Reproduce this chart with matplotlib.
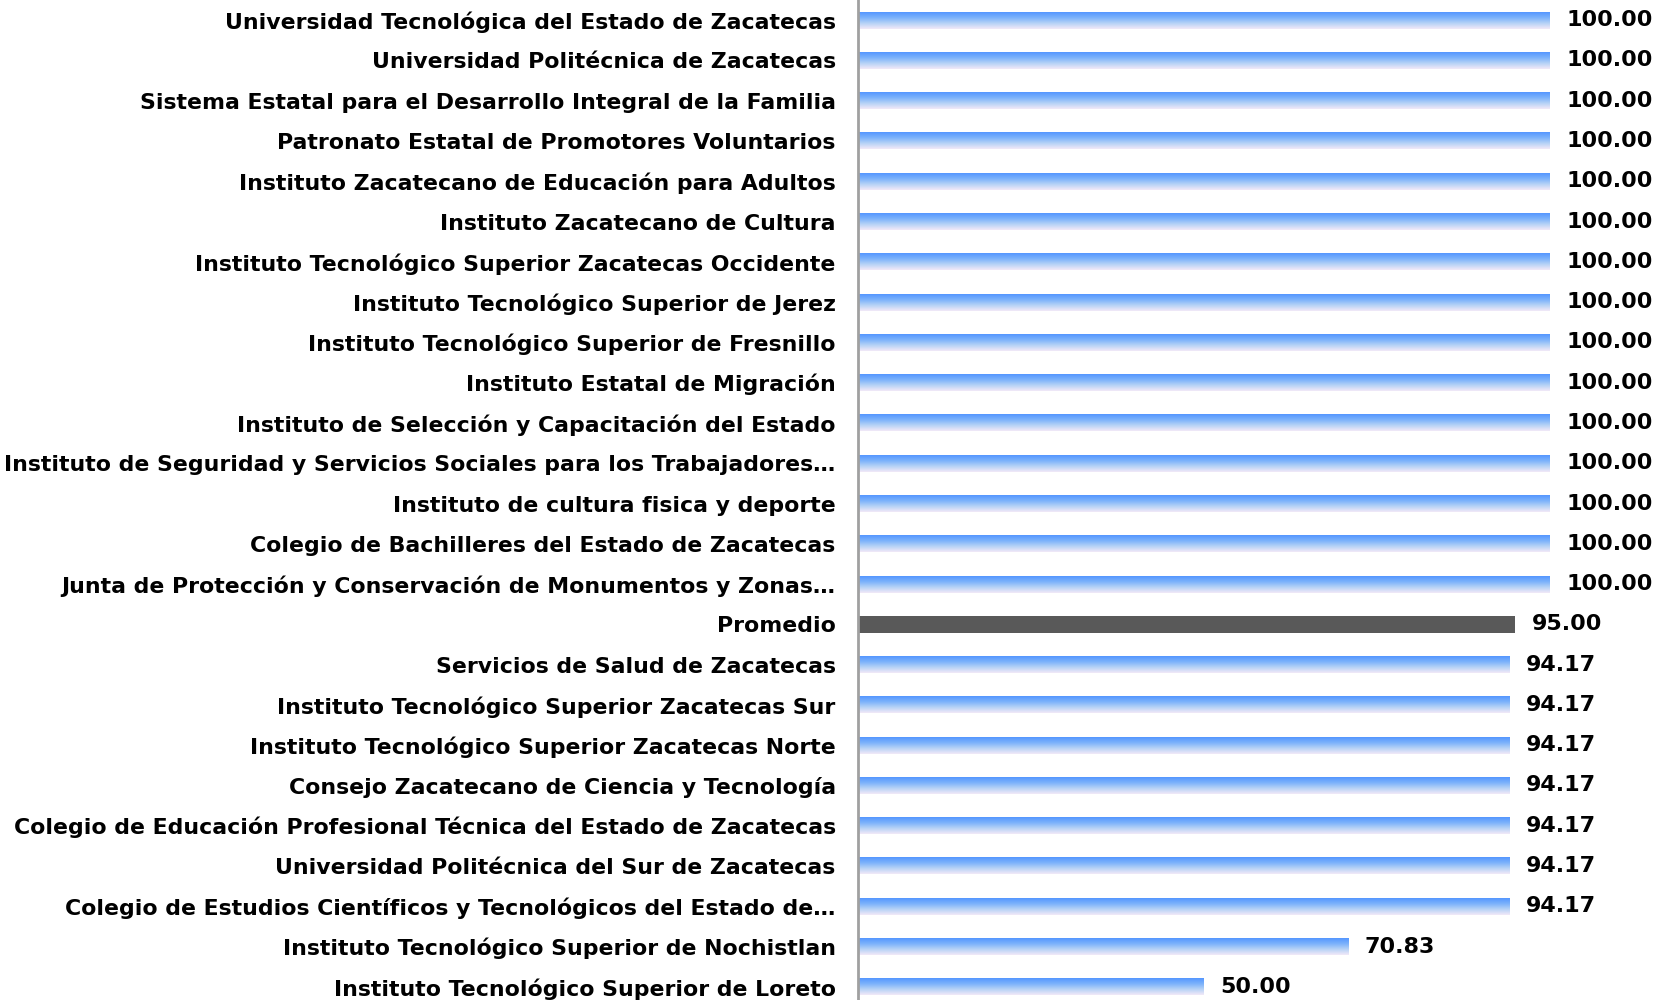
import numpy as np
import matplotlib
matplotlib.use('Agg')
import matplotlib.pyplot as plt
from matplotlib.colors import LinearSegmentedColormap

# Datos (de arriba hacia abajo)
etiquetas = [
    'Universidad Tecnológica del Estado de Zacatecas',
    'Universidad Politécnica de Zacatecas',
    'Sistema Estatal para el Desarrollo Integral de la Familia',
    'Patronato Estatal de Promotores Voluntarios',
    'Instituto Zacatecano de Educación para Adultos',
    'Instituto Zacatecano de Cultura',
    'Instituto Tecnológico Superior Zacatecas Occidente',
    'Instituto Tecnológico Superior de Jerez',
    'Instituto Tecnológico Superior de Fresnillo',
    'Instituto Estatal de Migración',
    'Instituto de Selección y Capacitación del Estado',
    'Instituto de Seguridad y Servicios Sociales para los Trabajadores…',
    'Instituto de cultura fisica y deporte',
    'Colegio de Bachilleres del Estado de Zacatecas',
    'Junta de Protección y Conservación de Monumentos y Zonas…',
    'Promedio',
    'Servicios de Salud de Zacatecas',
    'Instituto Tecnológico Superior Zacatecas Sur',
    'Instituto Tecnológico Superior Zacatecas Norte',
    'Consejo Zacatecano de Ciencia y Tecnología',
    'Colegio de Educación Profesional Técnica del Estado de Zacatecas',
    'Universidad Politécnica del Sur de Zacatecas',
    'Colegio de Estudios Científicos y Tecnológicos del Estado de…',
    'Instituto Tecnológico Superior de Nochistlan',
    'Instituto Tecnológico Superior de Loreto',
]
valores = [100.00] * 15 + [95.00] + [94.17] * 7 + [70.83, 50.00]

fuente = 'DejaVu Sans'
alto_barra = 0.42
degradado = LinearSegmentedColormap.from_list(
    'azul', ['#5597ff', '#7cb2fb', '#b7d3f6', '#f2e9f8'])
grad = np.linspace(0, 1, 64).reshape(-1, 1)

fig = plt.figure(figsize=(16.64, 10), dpi=100)
ax = fig.add_axes([0.5156, -0.007, 1 - 0.5156, 1.007])

n = len(valores)

for i, (etq, v) in enumerate(zip(etiquetas, valores)):
    if etq == 'Promedio':
        ax.barh(i, v, height=alto_barra, color='#595959')
    else:
        # barra con degradado vertical
        ax.imshow(grad, cmap=degradado, aspect='auto',
                  extent=[0, v, i + alto_barra / 2, i - alto_barra / 2],
                  interpolation='bilinear', zorder=2)
    ax.text(v + 2.4, i, f'{v:.2f}', va='center', ha='left',
            fontsize=16, fontweight='bold', family=fuente)

ax.set_xlim(0, 116.5)
ax.set_ylim(n - 0.5, -0.5)

ax.set_yticks(range(n))
ax.set_yticklabels(etiquetas, fontsize=15.8, fontweight='bold', family=fuente)
ax.tick_params(axis='y', length=0, pad=16)
ax.set_xticks([])

for lado in ['top', 'right', 'bottom']:
    ax.spines[lado].set_visible(False)
ax.spines['left'].set_color('#a0a0a0')
ax.spines['left'].set_linewidth(2)

fig.savefig('out.png', dpi=100)
